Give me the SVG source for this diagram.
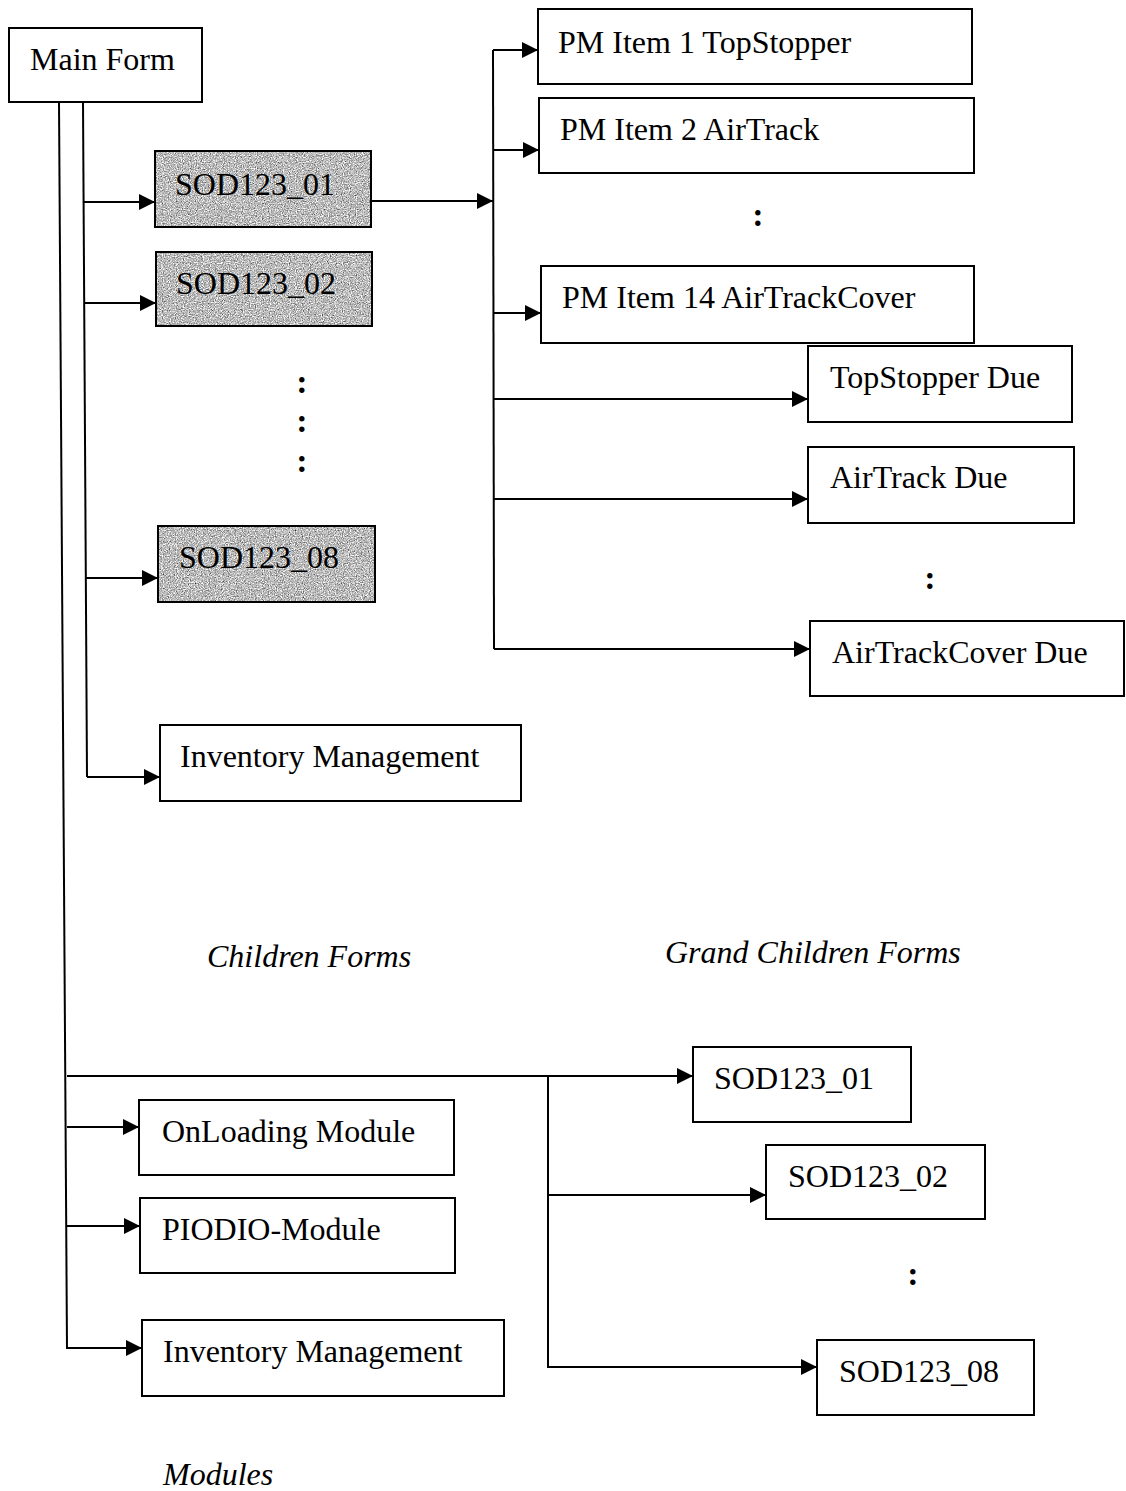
<svg xmlns="http://www.w3.org/2000/svg" width="1126" height="1491" viewBox="0 0 1126 1491">
  <style>
    .box { fill: #ffffff; stroke: #000000; stroke-width: 2; }
    .frame { fill: none; stroke: #000000; stroke-width: 2; }
    .lbl { font-family: "Liberation Serif", "Times New Roman", serif; font-size: 32px; fill: #000000; }
    .cap { font-family: "Liberation Serif", "Times New Roman", serif; font-size: 32px; font-style: italic; fill: #000000; }
    .dots { font-family: "Liberation Serif", "Times New Roman", serif; font-size: 34px; font-weight: bold; fill: #000000; text-anchor: middle; }
    .wire { fill: none; stroke: #000000; stroke-width: 2; }
    .arrow { marker-end: url(#head); }
  </style>
  <defs>
    <marker id="head" markerUnits="userSpaceOnUse" markerWidth="16" markerHeight="16" refX="16" refY="8" orient="auto">
      <path d="M0,0 L16,8 L0,16 z" fill="#000000"/>
    </marker>
    <!-- grainy grey fill for the SOD123 child forms -->
    <filter id="grain" x="0" y="0" width="100%" height="100%" color-interpolation-filters="sRGB">
      <feTurbulence type="fractalNoise" baseFrequency="0.85" numOctaves="2" seed="7" result="noise"/>
      <feColorMatrix in="noise" type="matrix" values="0.33 0.33 0.34 0 0  0.33 0.33 0.34 0 0  0.33 0.33 0.34 0 0  0 0 0 0 1" result="grey"/>
      <feComponentTransfer in="grey">
        <feFuncR type="linear" slope="2.0" intercept="-0.27"/>
        <feFuncG type="linear" slope="2.0" intercept="-0.27"/>
        <feFuncB type="linear" slope="2.0" intercept="-0.27"/>
      </feComponentTransfer>
    </filter>
  </defs>

  <rect x="0" y="0" width="1126" height="1491" fill="#ffffff"/>

  <!-- connectors -->
  <g id="connectors">
    <!-- trunks from the main form -->
    <path class="wire" d="M59,102 L67,1349"/>
    <path class="wire" d="M83,102 L87,777"/>
    <!-- children forms -->
    <path class="wire arrow" d="M83,202 H155"/>
    <path class="wire arrow" d="M84,303 H156"/>
    <path class="wire arrow" d="M86,578 H158"/>
    <path class="wire arrow" d="M87,777 H160"/>
    <!-- SOD123_01 to its grand children -->
    <path class="wire arrow" d="M371,201 H493"/>
    <path class="wire" d="M493,50 L494,649"/>
    <path class="wire arrow" d="M493,50 H538"/>
    <path class="wire arrow" d="M493,150 H539"/>
    <path class="wire arrow" d="M493,313 H541"/>
    <path class="wire arrow" d="M493,399 H808"/>
    <path class="wire arrow" d="M493,499 H808"/>
    <path class="wire arrow" d="M494,649 H810"/>
    <!-- modules -->
    <path class="wire arrow" d="M67,1076 H693"/>
    <path class="wire arrow" d="M67,1127 H139"/>
    <path class="wire arrow" d="M67,1226 H140"/>
    <path class="wire arrow" d="M67,1348 H142"/>
    <path class="wire" d="M548,1076 V1368"/>
    <path class="wire arrow" d="M548,1195 H766"/>
    <path class="wire arrow" d="M548,1367 H817"/>
  </g>

  <!-- main form -->
  <g id="main-form">
    <rect class="box" x="9" y="28" width="193" height="74"/>
    <text class="lbl" x="30" y="70">Main Form</text>
  </g>

  <!-- children forms -->
  <g id="child-sod123-01">
    <rect x="155" y="151" width="216" height="76" fill="#a8a8a8" filter="url(#grain)"/>
    <rect class="frame" x="155" y="151" width="216" height="76"/>
    <text class="lbl" x="175" y="195">SOD123_01</text>
  </g>
  <g id="child-sod123-02">
    <rect x="156" y="252" width="216" height="74" fill="#a8a8a8" filter="url(#grain)"/>
    <rect class="frame" x="156" y="252" width="216" height="74"/>
    <text class="lbl" x="176" y="294">SOD123_02</text>
  </g>
  <g id="child-ellipsis">
    <text class="dots" x="302" y="393">:</text>
    <text class="dots" x="302" y="432">:</text>
    <text class="dots" x="302" y="472">:</text>
  </g>
  <g id="child-sod123-08">
    <rect x="158" y="526" width="217" height="76" fill="#a8a8a8" filter="url(#grain)"/>
    <rect class="frame" x="158" y="526" width="217" height="76"/>
    <text class="lbl" x="179" y="568">SOD123_08</text>
  </g>
  <g id="child-inventory">
    <rect class="box" x="160" y="725" width="361" height="76"/>
    <text class="lbl" x="180" y="767">Inventory Management</text>
  </g>

  <!-- grand children forms -->
  <g id="pm-item-1">
    <rect class="box" x="538" y="9" width="434" height="75"/>
    <text class="lbl" x="558" y="53">PM Item 1 TopStopper</text>
  </g>
  <g id="pm-item-2">
    <rect class="box" x="539" y="98" width="435" height="75"/>
    <text class="lbl" x="560" y="140">PM Item 2 AirTrack</text>
  </g>
  <g id="pm-ellipsis">
    <text class="dots" x="758" y="226">:</text>
  </g>
  <g id="pm-item-14">
    <rect class="box" x="541" y="266" width="433" height="77"/>
    <text class="lbl" x="562" y="308">PM Item 14 AirTrackCover</text>
  </g>
  <g id="topstopper-due">
    <rect class="box" x="808" y="346" width="264" height="76"/>
    <text class="lbl" x="830" y="388">TopStopper Due</text>
  </g>
  <g id="airtrack-due">
    <rect class="box" x="808" y="447" width="266" height="76"/>
    <text class="lbl" x="830" y="488">AirTrack Due</text>
  </g>
  <g id="due-ellipsis">
    <text class="dots" x="930" y="589">:</text>
  </g>
  <g id="airtrackcover-due">
    <rect class="box" x="810" y="621" width="314" height="75"/>
    <text class="lbl" x="832" y="663">AirTrackCover Due</text>
  </g>

  <!-- section captions -->
  <g id="captions">
    <text class="cap" x="207" y="967">Children Forms</text>
    <text class="cap" x="665" y="963">Grand Children Forms</text>
    <text class="cap" x="163" y="1485">Modules</text>
  </g>

  <!-- modules -->
  <g id="module-onloading">
    <rect class="box" x="139" y="1100" width="315" height="75"/>
    <text class="lbl" x="162" y="1142">OnLoading Module</text>
  </g>
  <g id="module-piodio">
    <rect class="box" x="140" y="1198" width="315" height="75"/>
    <text class="lbl" x="162" y="1240">PIODIO-Module</text>
  </g>
  <g id="module-inventory">
    <rect class="box" x="142" y="1320" width="362" height="76"/>
    <text class="lbl" x="163" y="1362">Inventory Management</text>
  </g>
  <g id="onloading-sod123-01">
    <rect class="box" x="693" y="1047" width="218" height="75"/>
    <text class="lbl" x="714" y="1089">SOD123_01</text>
  </g>
  <g id="onloading-sod123-02">
    <rect class="box" x="766" y="1145" width="219" height="74"/>
    <text class="lbl" x="788" y="1187">SOD123_02</text>
  </g>
  <g id="onloading-ellipsis">
    <text class="dots" x="913" y="1285">:</text>
  </g>
  <g id="onloading-sod123-08">
    <rect class="box" x="817" y="1340" width="217" height="75"/>
    <text class="lbl" x="839" y="1382">SOD123_08</text>
  </g>
</svg>
